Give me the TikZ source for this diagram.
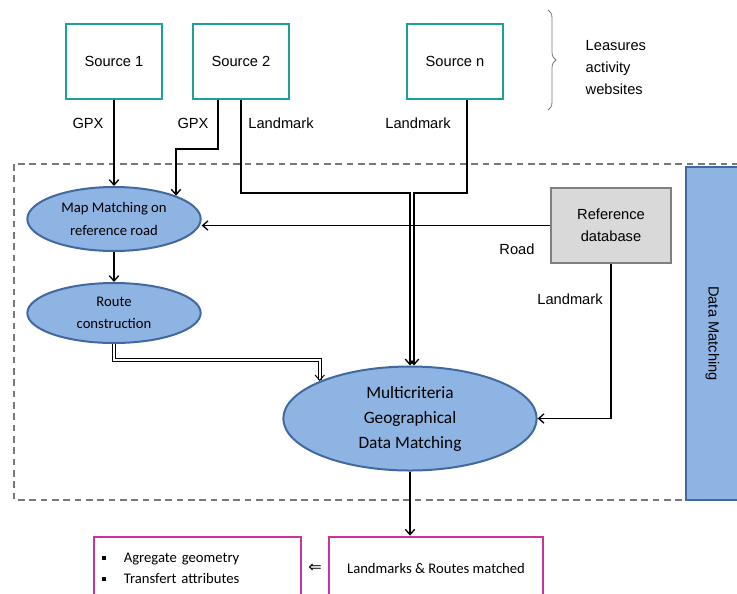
\documentclass[tikz,border=0pt]{standalone}
\usepackage{fontspec}
\setmainfont{Liberation Sans}
\newfontfamily\calfont{Carlito}
\newfontfamily\symfont{DejaVu Sans}
\definecolor{srcteal}{RGB}{28,160,155}
\definecolor{ellfill}{RGB}{142,180,227}
\definecolor{elldraw}{RGB}{65,105,160}
\definecolor{refgray}{RGB}{217,217,217}
\definecolor{refdraw}{RGB}{128,128,128}
\definecolor{resmag}{RGB}{204,51,153}
\definecolor{medgray}{RGB}{120,120,120}
\usetikzlibrary{calc, positioning, arrows.meta, shapes.geometric, decorations.pathreplacing}
\newcommand{\bsq}{\rule[0.25ex]{3.2pt}{3.2pt}\hspace{13pt}}

\begin{document}
\begin{tikzpicture}[x=0.75pt, y=-0.75pt, font=\fontsize{11}{13}\selectfont,
  source/.style={draw=srcteal, line width=1.5pt, minimum width=72pt, minimum height=56pt},
  proc/.style={ellipse, draw=elldraw, line width=1.5pt, fill=ellfill, align=center,
    inner sep=0pt, font=\calfont\fontsize{11}{17}\selectfont},
  refdb/.style={draw=refdraw, line width=1.8pt, fill=refgray, minimum width=90pt,
    minimum height=56pt, align=center, font=\fontsize{11}{16.5}\selectfont},
  result/.style={draw=resmag, line width=1.5pt, minimum height=47pt,
    font=\calfont\fontsize{11}{15.75}\selectfont},
  arw/.style={-{Straight Barb[length=4pt, width=7pt]}, line width=1pt},
  dblarw/.style={double, double distance=1.6pt, line width=0.7pt,
    -{Straight Barb[length=4pt, width=7pt]}},
]
\useasboundingbox (0,0) rectangle (737,593);

% Data matching frame
\draw[medgray, line width=1pt, dash pattern=on 5pt off 3.5pt] (14,164) rectangle (760,500);
\node[draw=elldraw, line width=1.5pt, fill=ellfill, minimum width=250pt, minimum height=40pt,
  rotate=-90] (dmatch) at (712.5,333.5) {Data Matching};

% Sources
\node[source] (src1) at (114,61.5) {Source 1};
\node[source] (src2) at (241,61.5) {Source 2};
\node[source] (srcn) at (455,61.5) {Source n};
\draw[medgray, line width=0.6pt, decorate, decoration={brace, amplitude=6pt}]
  (548,10) -- (548,110);
\node[anchor=west, align=left, font=\fontsize{11}{16.5}\selectfont] (sites) at (581,67.5)
  {Leasures\\activity\\websites};

% Processes
\node[proc, minimum width=130pt, minimum height=48pt] (mapm) at (114,219)
  {Map Matching on\\reference road};
\node[proc, minimum width=130pt, minimum height=45pt] (route) at (114,313)
  {Route\\construction};
\node[proc, minimum width=190pt, minimum height=78pt,
  font=\calfont\fontsize{13}{18.75}\selectfont] (multi) at (410,418.5)
  {Multicriteria\\Geographical\\Data Matching};
\node[refdb] (ref) at (611,225.5) {Reference\\database};

% Results
\node[result, minimum width=160pt] (res) at (436,568) {Landmarks \& Routes matched};
\node[result, minimum width=155pt, text width=143pt, inner xsep=6pt, align=left] (ops)
  at (197.5,568) {\bsq Agregate geometry\\\bsq Transfert attributes};
\node[font=\symfont\fontsize{12}{14}\selectfont] (impl) at (315,568) {⇐};

% Connectors
\coordinate (gpxbend) at (218,149);
\coordinate (lmk2) at (410,193);
\coordinate (lmkn) at (414,193);
\draw[arw] (src1) -- (mapm);
\draw[arw] (src2.south -| gpxbend) -- (gpxbend) -| (mapm.north east);
\draw[arw] (src2.south) |- (lmk2) -- (lmk2 |- multi.north);
\draw[arw] ([xshift=9pt]srcn.south) |- (lmkn) -- (lmkn |- multi.north);
\draw[arw] (ref.west) -- (ref.west -| mapm.east);
\draw[arw] (mapm) -- (route);
\draw[dblarw] (route.south) -- ++(0,16) -| (multi.north west);
\draw[arw] (ref.south) |- (multi.east);
\draw[arw] (multi.south) -- (multi.south |- res.north);

% Labels
\node (gpx1) at (88,123) {GPX};
\node (gpx2) at (193,123) {GPX};
\node (lmk2lbl) at (281,123) {Landmark};
\node (lmknlbl) at (418,123) {Landmark};
\node (roadlbl) at (517,249) {Road};
\node (lmkref) at (570,299) {Landmark};
\end{tikzpicture}
\end{document}
